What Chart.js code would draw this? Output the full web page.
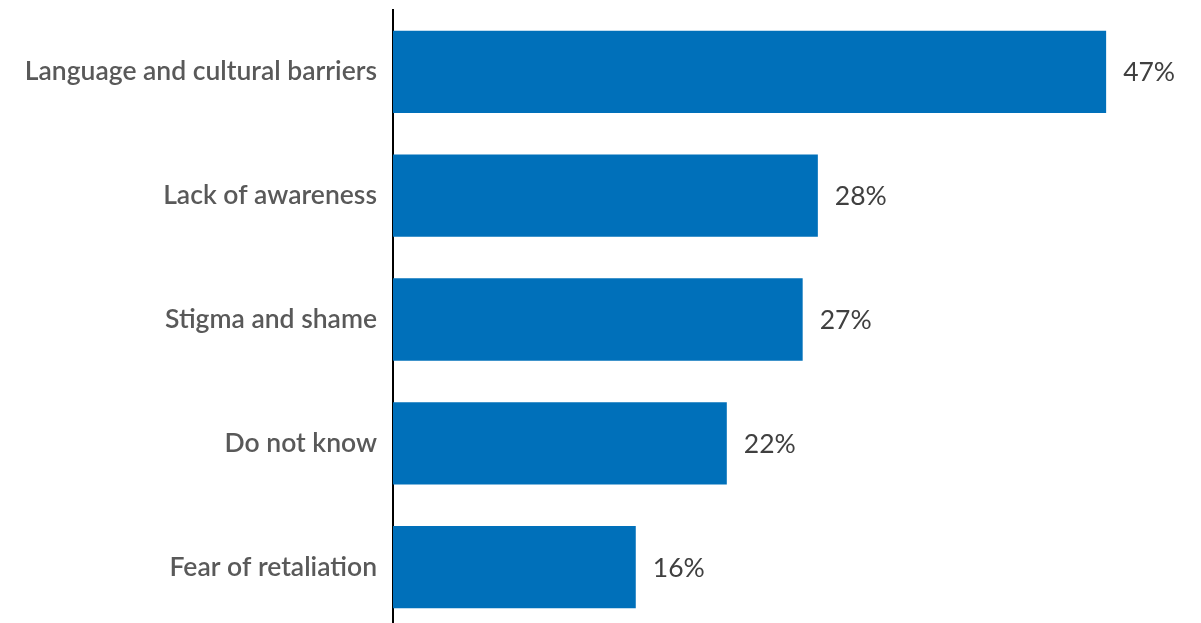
<!DOCTYPE html>
<html>
<head>
<meta charset="utf-8">
<script src="https://cdn.jsdelivr.net/npm/chart.js@4.4.1/dist/chart.umd.min.js"></script>
<style>
  html, body { margin: 0; padding: 0; background: #fff; overflow: hidden; }
  #wrap { position: relative; width: 1201px; height: 629px; }
</style>
</head>
<body>
<div id="wrap"><canvas id="barriers"></canvas></div>
<script>
// categories and shares (percent)
const categories = [
  "Language and cultural barriers",
  "Lack of awareness",
  "Stigma and shame",
  "Do not know",
  "Fear of retaliation"
];
const shares = [47, 28, 27, 22, 16];
const valueLabels = ["47%", "28%", "27%", "22%", "16%"];

// writes the percentage just past the end of each bar
const endLabels = {
  id: "endLabels",
  afterDatasetsDraw(chart) {
    const ctx = chart.ctx;
    const meta = chart.getDatasetMeta(0);
    ctx.save();
    ctx.font = "400 26.5px Lato";
    ctx.fillStyle = "#404040";
    ctx.textAlign = "left";
    ctx.textBaseline = "middle";
    meta.data.forEach((bar, i) => {
      ctx.fillText(valueLabels[i], bar.x + 17, bar.y + 1);
    });
    ctx.restore();
  }
};

new Chart(document.getElementById("barriers"), {
  type: "bar",
  data: {
    labels: categories,
    datasets: [{
      data: shares,
      backgroundColor: "#0070BA",
      borderWidth: 0,
      categoryPercentage: 1,
      barPercentage: 0.665
    }]
  },
  options: {
    indexAxis: "y",
    responsive: true,
    maintainAspectRatio: false,
    animation: false,
    layout: { padding: { top: 10, right: 19, left: 0, bottom: 0 } },
    plugins: { legend: { display: false }, tooltip: { enabled: false } },
    scales: {
      x: {
        display: false,
        min: 0,
        max: 52
      },
      y: {
        afterFit(scale) {
          scale.width = 393;
          // labels sit inside the category bands, no extra room needed
          scale.paddingTop = 0;
          scale.paddingBottom = 0;
        },
        grid: { display: false, drawTicks: false },
        border: { display: true, color: "#000", width: 2 },
        ticks: {
          padding: 16,
          color: "#595959",
          font: { family: "Lato", size: 26.5, weight: "600" }
        }
      }
    }
  },
  plugins: [endLabels]
});
</script>
</body>
</html>
